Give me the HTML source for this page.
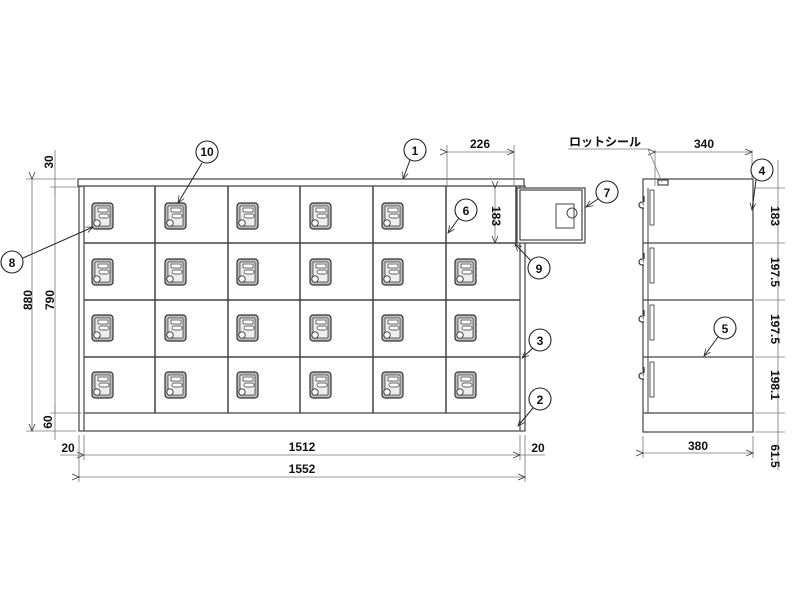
<!DOCTYPE html>
<html><head><meta charset="utf-8"><style>
html,body{margin:0;padding:0;background:#fff}
svg{display:block}
text{font-family:"Liberation Sans","Noto Sans CJK JP",sans-serif;font-weight:bold;fill:#111;font-size:12px}
</style></head><body>
<svg width="800" height="600" viewBox="0 0 800 600" xmlns="http://www.w3.org/2000/svg">
<defs>
<g id="lock">
<rect x="0" y="0" width="21" height="26" rx="3" fill="#bbb" stroke="#333" stroke-width="1.2"/>
<rect x="3" y="3" width="15" height="20" rx="1" fill="#eee" stroke="#444" stroke-width="0.8"/>
<rect x="6" y="5" width="10" height="4" fill="#fff" stroke="#333" stroke-width="0.7"/>
<rect x="7" y="11" width="10" height="4" rx="2" fill="#fff" stroke="#333" stroke-width="0.7"/>
<circle cx="5" cy="20" r="3.2" fill="#fff" stroke="#333" stroke-width="0.9"/>
</g>
<marker id="ar" markerWidth="8" markerHeight="8" refX="7" refY="4" orient="auto" markerUnits="userSpaceOnUse"><path d="M0,1 L7,4 L0,7" fill="none" stroke="#333" stroke-width="0.8"/></marker>
</defs>
<g stroke="#444" fill="none" stroke-width="1.2">
<!-- front cabinet -->
<rect x="79" y="186" width="446" height="245" fill="#fff"/>
<rect x="78" y="179" width="446" height="7" fill="#fff"/>
<line x1="84" y1="186" x2="84" y2="431"/>
<line x1="520" y1="186" x2="520" y2="431"/>
<line x1="84" y1="413" x2="520" y2="413"/>
<g stroke-width="1.5">
<line x1="84" y1="243" x2="446" y2="243"/>
<line x1="84" y1="300" x2="520" y2="300"/>
<line x1="84" y1="357" x2="520" y2="357"/>
<line x1="446" y1="243" x2="517" y2="243"/>
<line x1="155" y1="186" x2="155" y2="413"/>
<line x1="228" y1="186" x2="228" y2="413"/>
<line x1="300" y1="186" x2="300" y2="413"/>
<line x1="373" y1="186" x2="373" y2="413"/>
<line x1="446" y1="186" x2="446" y2="413"/>
<line x1="516" y1="186" x2="516" y2="243"/>
</g>
<!-- opened door -->
<rect x="517" y="188" width="68" height="55" fill="#fff"/>
<rect x="520" y="190" width="62" height="50"/>
<rect x="556" y="204" width="18" height="24" stroke-width="1"/>
<circle cx="572" cy="213" r="5" stroke-width="1"/>
<!-- side view -->
<rect x="643" y="179" width="110" height="253" fill="#fff"/>
<line x1="643" y1="243" x2="753" y2="243"/>
<line x1="643" y1="300" x2="753" y2="300"/>
<line x1="643" y1="357" x2="753" y2="357"/>
<line x1="643" y1="413" x2="753" y2="413"/>
<line x1="648" y1="188" x2="648" y2="413" stroke-width="1"/>
<rect x="658" y="180" width="10" height="5"/>
</g>
<g stroke="#333" fill="#fff" stroke-width="1.2">
<path d="M644,202 v-6 M642,202 a3,3 0 0 0 0,6 h2"/>
<path d="M644,259 v-6 M642,259 a3,3 0 0 0 0,6 h2"/>
<path d="M644,316 v-6 M642,316 a3,3 0 0 0 0,6 h2"/>
<path d="M644,373 v-6 M642,373 a3,3 0 0 0 0,6 h2"/>
<rect x="650" y="190" width="4" height="35" stroke-width="0.8"/>
<rect x="650" y="248" width="4" height="35" stroke-width="0.8"/>
<rect x="650" y="305" width="4" height="35" stroke-width="0.8"/>
<rect x="650" y="362" width="4" height="35" stroke-width="0.8"/>
</g>
<!-- locks -->
<g>
<use href="#lock" x="92" y="203"/><use href="#lock" x="165" y="203"/><use href="#lock" x="237" y="203"/><use href="#lock" x="310" y="203"/><use href="#lock" x="382" y="203"/>
<use href="#lock" x="92" y="259"/><use href="#lock" x="165" y="259"/><use href="#lock" x="237" y="259"/><use href="#lock" x="310" y="259"/><use href="#lock" x="382" y="259"/><use href="#lock" x="455" y="259"/>
<use href="#lock" x="92" y="315"/><use href="#lock" x="165" y="315"/><use href="#lock" x="237" y="315"/><use href="#lock" x="310" y="315"/><use href="#lock" x="382" y="315"/><use href="#lock" x="455" y="315"/>
<use href="#lock" x="92" y="372"/><use href="#lock" x="165" y="372"/><use href="#lock" x="237" y="372"/><use href="#lock" x="310" y="372"/><use href="#lock" x="382" y="372"/><use href="#lock" x="455" y="372"/>
</g>
<!-- dimension lines -->
<g stroke="#777" stroke-width="0.8" fill="none">
<line x1="26" y1="179" x2="76" y2="179"/><line x1="26" y1="431" x2="76" y2="431"/>
<line x1="32" y1="179" x2="32" y2="431" marker-start="url(#ar)" marker-end="url(#ar)"/>
<line x1="50" y1="187" x2="82" y2="187"/><line x1="50" y1="413" x2="82" y2="413"/>
<line x1="55" y1="150" x2="55" y2="195"/><line x1="55" y1="187" x2="55" y2="413"/><line x1="55" y1="405" x2="55" y2="440"/>
<line x1="79" y1="435" x2="79" y2="482"/><line x1="84" y1="435" x2="84" y2="460"/>
<line x1="520" y1="435" x2="520" y2="460"/><line x1="525" y1="435" x2="525" y2="482"/>
<line x1="84" y1="455" x2="520" y2="455" marker-start="url(#ar)" marker-end="url(#ar)"/>
<line x1="60" y1="455" x2="84" y2="455"/><line x1="520" y1="455" x2="545" y2="455"/>
<line x1="79" y1="477" x2="525" y2="477" marker-start="url(#ar)" marker-end="url(#ar)"/>
<line x1="447" y1="145" x2="447" y2="186"/><line x1="514" y1="145" x2="514" y2="186"/>
<line x1="447" y1="152" x2="514" y2="152" marker-start="url(#ar)" marker-end="url(#ar)"/>
<line x1="495" y1="188" x2="495" y2="243" marker-start="url(#ar)" marker-end="url(#ar)"/>
<line x1="655" y1="150" x2="655" y2="186"/><line x1="752" y1="150" x2="752" y2="179"/>
<line x1="655" y1="152" x2="752" y2="152" marker-start="url(#ar)" marker-end="url(#ar)"/>
<line x1="643" y1="436" x2="643" y2="458"/><line x1="753" y1="436" x2="753" y2="458"/>
<line x1="643" y1="453" x2="753" y2="453" marker-start="url(#ar)" marker-end="url(#ar)"/>
<line x1="755" y1="188" x2="785" y2="188"/>
<line x1="755" y1="243" x2="785" y2="243"/><line x1="755" y1="300" x2="785" y2="300"/><line x1="755" y1="357" x2="785" y2="357"/><line x1="755" y1="413" x2="785" y2="413"/><line x1="755" y1="432" x2="785" y2="432"/>
<line x1="778" y1="160" x2="778" y2="470"/>
<line x1="568" y1="149" x2="648" y2="149"/><path d="M648,149 L662,182"/>
</g>
<!-- callouts -->
<g stroke="#222" stroke-width="1" fill="none">
<line x1="410" y1="160" x2="403" y2="179" marker-end="url(#ar)"/>
<line x1="202" y1="163" x2="178" y2="203" marker-end="url(#ar)"/>
<line x1="23" y1="258" x2="93" y2="227" marker-end="url(#ar)"/>
<line x1="459" y1="218" x2="448" y2="233" marker-end="url(#ar)"/>
<line x1="598" y1="199" x2="586" y2="207" marker-end="url(#ar)"/>
<line x1="532" y1="262" x2="515" y2="244" marker-end="url(#ar)"/>
<line x1="533" y1="348" x2="522" y2="358" marker-end="url(#ar)"/>
<line x1="533" y1="408" x2="518" y2="426" marker-end="url(#ar)"/>
<line x1="756" y1="180" x2="752" y2="210" marker-end="url(#ar)"/>
<line x1="718" y1="337" x2="704" y2="356" marker-end="url(#ar)"/>
</g>
<g stroke="#222" stroke-width="1.1" fill="#fff">
<circle cx="415" cy="150" r="11"/><circle cx="207" cy="152" r="11"/><circle cx="12" cy="262" r="11"/>
<circle cx="466" cy="210" r="11"/><circle cx="607" cy="192" r="11"/><circle cx="539" cy="268" r="11"/>
<circle cx="540" cy="340" r="11"/><circle cx="540" cy="399" r="11"/><circle cx="762" cy="170" r="11"/><circle cx="725" cy="328" r="11"/>
</g>
<g text-anchor="middle">
<text x="415" y="155">1</text><text x="207" y="156" font-size="11">10</text><text x="12" y="267">8</text>
<text x="466" y="215">6</text><text x="607" y="197">7</text><text x="539" y="273">9</text>
<text x="540" y="345">3</text><text x="540" y="404">2</text><text x="762" y="175">4</text><text x="725" y="333">5</text>
<text x="480" y="148">226</text><text x="704" y="148">340</text><text x="698" y="450">380</text>
<text x="302" y="451">1512</text><text x="302" y="473">1552</text>
<text x="68" y="452">20</text><text x="538" y="452">20</text>
<text x="605" y="146" font-size="12">ロットシール</text>
<text transform="translate(32,300) rotate(-90)" x="0" y="0">880</text>
<text transform="translate(54,300) rotate(-90)">790</text>
<text transform="translate(53,162) rotate(-90)">30</text>
<text transform="translate(52,422) rotate(-90)">60</text>
<text transform="translate(492,216) rotate(90)">183</text>
<text transform="translate(771,216) rotate(90)">183</text>
<text transform="translate(771,272) rotate(90)">197.5</text>
<text transform="translate(771,329) rotate(90)">197.5</text>
<text transform="translate(771,385) rotate(90)">198.1</text>
<text transform="translate(771,456) rotate(90)">61.5</text>
</g>
</svg>
</body></html>
